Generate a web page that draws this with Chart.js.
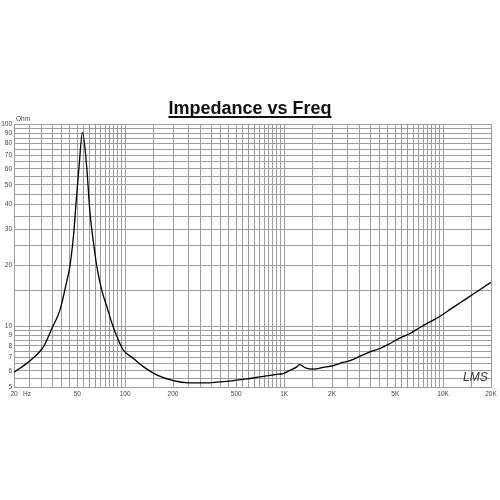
<!DOCTYPE html>
<html>
<head>
<meta charset="utf-8">
<script src="https://cdn.jsdelivr.net/npm/chart.js@4/dist/chart.umd.min.js"></script>
<style>
html,body{margin:0;padding:0;background:#fff;}
#wrap{width:500px;height:500px;}
</style>
</head>
<body>
<div id="wrap"><canvas id="c" width="500" height="500"></canvas></div>
<script>
// ---- data ----
const freqHz = [20, 25, 30.6, 34.6, 38.9, 42.9, 44.9, 47.5, 49.1, 51.3, 53.9, 57.3, 60.0, 63.3, 66.4, 71.2, 76.7, 82.7, 90.7, 97.5, 112.9, 130.7, 159, 201, 250, 310, 377, 467, 582, 705, 898, 987, 1089, 1201, 1250, 1360, 1526, 1763, 2038, 2245, 2595, 3000, 3467, 4008, 4634, 5357, 6193, 7159, 8276, 9569, 11063, 12789, 14785, 17093, 20000];
const impedanceOhm = [5.92, 6.71, 7.90, 9.74, 12.0, 16.6, 19.7, 28.8, 40.5, 61.5, 90.6, 61.5, 37.0, 25.7, 19.7, 15.1, 12.5, 10.3, 8.53, 7.61, 6.92, 6.29, 5.72, 5.37, 5.24, 5.24, 5.28, 5.36, 5.48, 5.61, 5.77, 5.83, 6.05, 6.29, 6.45, 6.22, 6.13, 6.25, 6.38, 6.55, 6.75, 7.10, 7.46, 7.75, 8.21, 8.75, 9.20, 9.85, 10.5, 11.2, 12.1, 13.05, 14.08, 15.18, 16.5];

// tick labels
const xLabelValues = [20, 50, 100, 200, 500, 1000, 2000, 5000, 10000, 20000];
const xLabelTexts  = ['20', '50', '100', '200', '500', '1K', '2K', '5K', '10K', '20K'];
const yLabelValues = [5, 6, 7, 8, 9, 10, 20, 30, 40, 50, 60, 70, 80, 90, 100];
const yLabelTexts  = ['5', '6', '7', '8', '9', '10', '20', '30', '40', '50', '60', '70', '80', '90', '100'];

const titleText = 'Impedance vs Freq';

// grid lines: steps of half a unit within each decade
function gridValues(lo, hi) {
  const out = [];
  for (let d = 1; d <= 1e5; d *= 10) {
    for (let m = 1; m < 10; m += 0.5) {
      const v = Math.round(m * d * 1000) / 1000;
      if (v >= lo - 1e-9 && v <= hi + 1e-9) out.push(v);
    }
  }
  if (out[out.length - 1] !== hi) out.push(hi);
  return out;
}
const xGrid = gridValues(20, 20000);
const yGrid = gridValues(5, 100);

function labelFor(values, texts, v) {
  for (let i = 0; i < values.length; i++) {
    if (Math.abs(values[i] - v) < 1e-6) return texts[i];
  }
  return '';
}

const FONT = '"Liberation Sans", Arial, sans-serif';
const GRID = '#9c9c9c';

const extras = {
  id: 'extras',
  afterDraw(chart) {
    const ctx = chart.ctx;
    ctx.save();
    // title underline
    ctx.font = 'bold 18px ' + FONT;
    const w = ctx.measureText(titleText).width;
    const cx = chart.width / 2;
    ctx.strokeStyle = '#111';
    ctx.lineWidth = 2;
    ctx.beginPath();
    ctx.moveTo(cx - w / 2, 117);
    ctx.lineTo(cx + w / 2, 117);
    ctx.stroke();
    // units
    ctx.fillStyle = '#444';
    ctx.font = '6.5px ' + FONT;
    ctx.textBaseline = 'middle';
    ctx.textAlign = 'left';
    ctx.fillText('Ohm', 16, 119.5);
    const xs = chart.scales.x;
    ctx.fillText('Hz', xs.getPixelForValue(20) + 9, 394.5);
    // watermark
    ctx.fillStyle = '#333';
    ctx.font = 'italic 12px ' + FONT;
    ctx.fillText('LMS', 463, 378);
    ctx.restore();
  }
};

new Chart(document.getElementById('c'), {
  type: 'line',
  data: {
    datasets: [{
      data: freqHz.map((f, i) => ({ x: f, y: impedanceOhm[i] })),
      borderColor: '#000',
      borderWidth: 1.3,
      pointRadius: 0,
      fill: false,
      cubicInterpolationMode: 'monotone'
    }]
  },
  options: {
    responsive: false,
    animation: false,
    devicePixelRatio: 1,
    layout: { padding: { left: 0, right: 0, top: 0, bottom: 97 } },
    plugins: {
      legend: { display: false },
      tooltip: { enabled: false },
      title: {
        display: true,
        text: titleText,
        color: '#111',
        font: { family: FONT, size: 18, weight: 'bold', lineHeight: 1.2 },
        padding: { top: 98, bottom: 4.4 }
      }
    },
    scales: {
      x: {
        type: 'logarithmic',
        min: 20, max: 20000,
        afterBuildTicks: s => { s.ticks = xGrid.map(v => ({ value: v })); },
        afterFit: s => { s.height = 16; },
        ticks: {
          autoSkip: false, maxRotation: 0, minRotation: 0, padding: 3,
          color: '#444', font: { family: FONT, size: 6.5 },
          callback: (v) => labelFor(xLabelValues, xLabelTexts, v)
        },
        grid: { color: GRID, lineWidth: 1, drawTicks: false },
        border: { display: true, color: GRID }
      },
      y: {
        type: 'logarithmic',
        min: 5, max: 100,
        afterBuildTicks: s => { s.ticks = yGrid.map(v => ({ value: v })); },
        afterFit: s => { s.width = 14; },
        ticks: {
          autoSkip: false, padding: 2,
          color: '#444', font: { family: FONT, size: 6.5 },
          callback: (v) => labelFor(yLabelValues, yLabelTexts, v)
        },
        grid: { color: GRID, lineWidth: 1, drawTicks: false },
        border: { display: true, color: GRID }
      },
      yR: {
        type: 'linear',
        position: 'right',
        display: true,
        afterFit: s => { s.width = 9; },
        ticks: { display: false },
        grid: { display: false, drawTicks: false },
        border: { display: false }
      }
    }
  },
  plugins: [extras]
});
</script>
</body>
</html>
